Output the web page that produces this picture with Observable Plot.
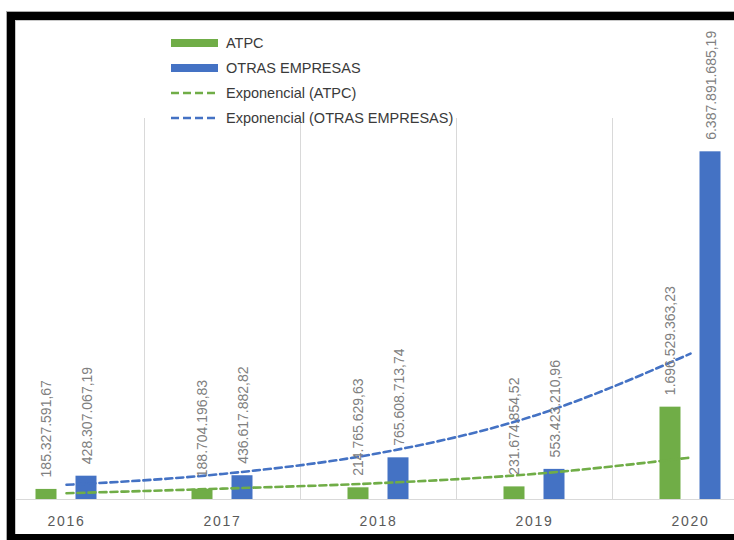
<!DOCTYPE html>
<html><head><meta charset="utf-8">
<script src="https://cdn.jsdelivr.net/npm/d3@7"></script>
<script src="https://cdn.jsdelivr.net/npm/@observablehq/plot@0.6"></script>
<style>
html,body{margin:0;padding:0;background:#fff;width:734px;height:540px;overflow:hidden;}
#wrap{position:relative;width:734px;height:540px;}
#chart{position:absolute;left:0;top:0;}
#frame{position:absolute;left:7px;top:12px;width:800px;height:514px;border-left:8px solid #000;border-top:8px solid #000;border-bottom:8px solid #000;pointer-events:none;box-shadow:-1px -1px 0 0 #aaa, inset 1px 1px 0 0 #c8c8c8;}
#legend{position:absolute;left:171px;top:31px;font-family:"Liberation Sans",Arial,sans-serif;font-size:14.5px;color:#3a3a3a;}
.row{height:24.8px;display:flex;align-items:center;white-space:nowrap;}
.sw{display:inline-block;width:47px;height:8px;margin-right:8px;}
.ln{width:47px;height:8px;margin-right:8px;display:block;}
svg [aria-label^="x-axis"] text{letter-spacing:1.7px;}
</style></head>
<body>
<div id="wrap">
  <div id="chart"></div>
  <div id="legend"></div>
  <div id="frame"></div>
</div>
<script>
const years = ["2016", "2017", "2018", "2019", "2020"];
const atpc = [185327591.67, 188704196.83, 214765629.63, 231674854.52, 1696529363.23];
const otras = [428307067.19, 436617882.82, 765608713.74, 553423210.96, 6387891685.19];
// exponential trendlines at each year
const trendAtpc = [115e6, 200e6, 300e6, 470e6, 770e6];
const trendOtras = [270e6, 470e6, 850e6, 1540e6, 2680e6];
const seriesNames = ["ATPC", "OTRAS EMPRESAS", "Exponencial (ATPC)", "Exponencial (OTRAS EMPRESAS)"];

const GREEN = "#70AD47", BLUE = "#4472C4";
const fmt = d3.formatLocale({decimal: ",", thousands: ".", grouping: [3], currency: ["", ""]}).format(",.2f");

const rowsA = years.map((y, i) => ({year: y, value: atpc[i], trend: trendAtpc[i]}));
const rowsO = years.map((y, i) => ({year: y, value: otras[i], trend: trendOtras[i]}));

const band = 156;
const plot = Plot.plot({
  width: 734,
  height: 540,
  marginTop: 118,
  marginBottom: 41,
  marginLeft: 16,
  marginRight: 0,
  style: {fontFamily: "Liberation Sans, Arial, sans-serif", fontSize: "14px", color: "#595959", background: "#fff", overflow: "visible"},
  x: {domain: years, range: [-12, -12 + band * years.length], paddingInner: 0, paddingOuter: 0, tickSize: 0, tickPadding: 17, label: null},
  y: {domain: [0, 7e9], axis: null},
  marks: [
    Plot.ruleX(years.slice(1), {x: d => d, dx: -band / 2, stroke: "#d9d9d9", strokeWidth: 1}),
    Plot.ruleY([0], {stroke: "#d9d9d9", strokeWidth: 1.2}),
    Plot.barY(rowsA, {x: "year", y: "value", fill: GREEN, insetLeft: 47.5, insetRight: 87.5}),
    Plot.barY(rowsO, {x: "year", y: "value", fill: BLUE, insetLeft: 87.5, insetRight: 47.5}),
    Plot.line(rowsA, {x: "year", y: "trend", stroke: GREEN, strokeWidth: 2.6, strokeDasharray: "7,4", curve: "monotone-x"}),
    Plot.line(rowsO, {x: "year", y: "trend", stroke: BLUE, strokeWidth: 2.6, strokeDasharray: "7,4", curve: "monotone-x"}),
    Plot.text(rowsA, {x: "year", y: "value", text: d => fmt(d.value), rotate: -90, textAnchor: "start", dx: -20, dy: -12, fill: "#808080", fontSize: 14}),
    Plot.text(rowsO, {x: "year", y: "value", text: d => fmt(d.value), rotate: -90, textAnchor: "start", dx: 21, dy: -12, fill: "#808080", fontSize: 14})
  ]
});
document.getElementById("chart").appendChild(plot);

// legend
const legend = document.getElementById("legend");
const legendItems = [
  {name: seriesNames[0], color: GREEN, type: "bar"},
  {name: seriesNames[1], color: BLUE, type: "bar"},
  {name: seriesNames[2], color: GREEN, type: "line"},
  {name: seriesNames[3], color: BLUE, type: "line"}
];
for (const it of legendItems) {
  const row = document.createElement("div");
  row.className = "row";
  if (it.type === "bar") {
    const s = document.createElement("span");
    s.className = "sw";
    s.style.background = it.color;
    row.appendChild(s);
  } else {
    const ns = "http://www.w3.org/2000/svg";
    const s = document.createElementNS(ns, "svg");
    s.setAttribute("class", "ln");
    s.setAttribute("width", 47); s.setAttribute("height", 8);
    const l = document.createElementNS(ns, "line");
    l.setAttribute("x1", 0); l.setAttribute("x2", 47);
    l.setAttribute("y1", 4); l.setAttribute("y2", 4);
    l.setAttribute("stroke", it.color);
    l.setAttribute("stroke-width", 2.6);
    l.setAttribute("stroke-dasharray", "8,4");
    s.appendChild(l);
    row.appendChild(s);
  }
  const t = document.createElement("span");
  t.textContent = it.name;
  row.appendChild(t);
  legend.appendChild(row);
}
</script>
</body></html>
